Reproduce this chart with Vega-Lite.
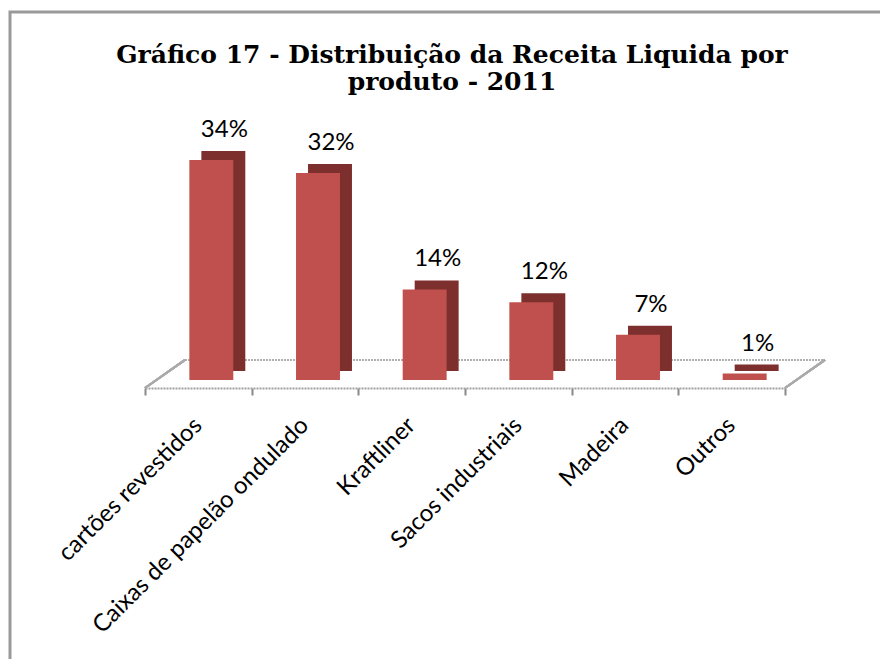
{
  "$schema": "https://vega.github.io/schema/vega-lite/v6.json",
  "autosize": "none",
  "width": 875,
  "height": 652,
  "padding": {"left": 10, "top": 12, "right": -5, "bottom": -5},
  "background": "white",
  "config": {
    "view": {"stroke": "#9a9a9a", "strokeWidth": 3}
  },
  "title": {
    "text": ["Gráfico 17 - Distribuição  da Receita Liquida por", "produto - 2011"],
    "font": "DejaVu Serif",
    "fontSize": 25,
    "fontWeight": "bold",
    "color": "#000000",
    "anchor": "start",
    "align": "center",
    "offset": -83,
    "lineHeight": 27,
    "dx": 442
  },
  "data": {
    "values": [
      {"produto": "cartões revestidos", "valor": 34, "rotulo": "34%"},
      {"produto": "Caixas de papelão ondulado", "valor": 32, "rotulo": "32%"},
      {"produto": "Kraftliner", "valor": 14, "rotulo": "14%"},
      {"produto": "Sacos industriais", "valor": 12, "rotulo": "12%"},
      {"produto": "Madeira", "valor": 7, "rotulo": "7%"},
      {"produto": "Outros", "valor": 1, "rotulo": "1%"}
    ]
  },
  "encoding": {
    "x": {
      "field": "produto",
      "type": "nominal",
      "sort": null,
      "scale": {
        "domain": ["cartões revestidos", "Caixas de papelão ondulado", "Kraftliner", "Sacos industriais", "Madeira", "Outros"],
        "range": [135, 775],
        "paddingInner": 0,
        "paddingOuter": 0
      },
      "axis": {
        "title": null,
        "labelAngle": -45,
        "labelFont": "Lato",
        "labelFontSize": 24,
        "labelColor": "#000000",
        "labelLimit": 0,
        "labelPadding": 18,
        "labelOffset": -9,
        "domainColor": "#a0a0a0",
        "domainWidth": 2,
        "domainDash": [2, 1],
        "tickColor": "#888888",
        "tickSize": 7,
        "tickWidth": 2,
        "tickBand": "extent",
        "offset": -276
      }
    },
    "y": {
      "field": "valor",
      "type": "quantitative",
      "scale": {"domain": [0, 34], "range": [368, 148], "nice": false, "zero": true},
      "axis": null
    }
  },
  "layer": [
    {
      "mark": {"type": "rule", "color": "#b0b0b0", "strokeWidth": 2, "strokeDash": [2, 1], "xOffset": 40, "x2Offset": 40},
      "encoding": {
        "x": {"datum": "cartões revestidos", "bandPosition": 0},
        "x2": {"datum": "Outros", "bandPosition": 1},
        "y": {"datum": 3.1}
      }
    },
    {
      "mark": {"type": "rule", "color": "#aaaaaa", "strokeWidth": 2, "x2Offset": 40},
      "encoding": {
        "x": {"datum": "cartões revestidos", "bandPosition": 0},
        "x2": {"datum": "cartões revestidos", "bandPosition": 0},
        "y": {"datum": -1.24},
        "y2": {"datum": 3.1}
      }
    },
    {
      "mark": {"type": "rule", "color": "#aaaaaa", "strokeWidth": 2, "x2Offset": 40},
      "encoding": {
        "x": {"datum": "Outros", "bandPosition": 1},
        "x2": {"datum": "Outros", "bandPosition": 1},
        "y": {"datum": -1.24},
        "y2": {"datum": 3.1}
      }
    },
    {
      "mark": {"type": "bar", "color": "#7d2f2d", "xOffset": 25, "yOffset": -9, "width": {"band": 0.412}},
      "encoding": {}
    },
    {
      "mark": {"type": "bar", "color": "#c0504d", "xOffset": 13, "width": {"band": 0.412}},
      "encoding": {}
    },
    {
      "mark": {"type": "text", "font": "Lato", "fontSize": 24, "color": "#000000", "dx": 26, "dy": -30, "baseline": "middle"},
      "encoding": {"text": {"field": "rotulo"}}
    }
  ]
}
